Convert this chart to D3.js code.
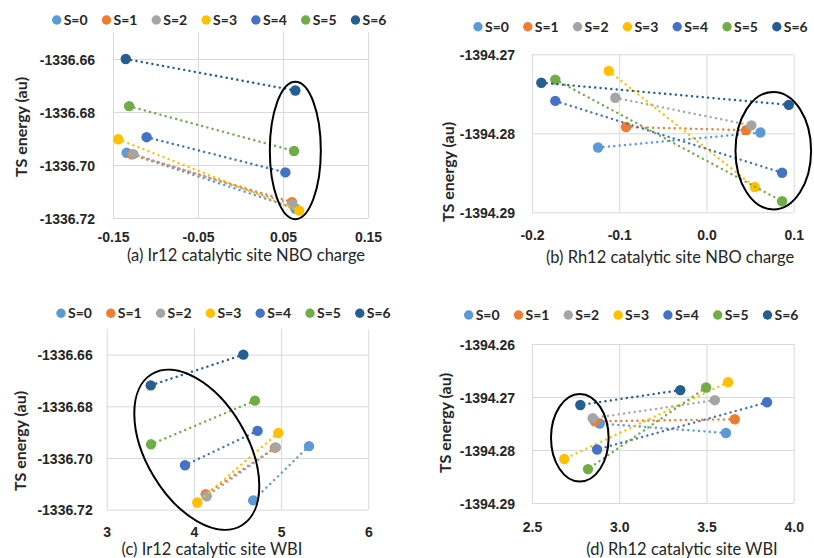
<!DOCTYPE html>
<html lang="en">
<head>
  <meta charset="UTF-8">
  <script src="https://d3js.org/d3.v7.min.js"></script>
  <title>TS energy vs NBO charge / WBI</title>
  <style>
    body { margin: 0; background: #fff; }
    svg { display: block; font-family: Lato, "Open Sans", sans-serif; }
  </style>
</head>
<body>
  <svg width="814" height="558"></svg>
  <script>
    const seriesNames = ["S=0", "S=1", "S=2", "S=3", "S=4", "S=5", "S=6"];
    const seriesColors = ["#5B9BD5", "#ED7D31", "#A5A5A5", "#FFC000", "#4472C4", "#70AD47", "#255E91"];

    // two TS structures per spin state: [first, second]
    const irEnergy = [
      [-1336.6954, -1336.7164],
      [-1336.6960, -1336.7140],
      [-1336.6959, -1336.7148],
      [-1336.6903, -1336.7172],
      [-1336.6895, -1336.7028],
      [-1336.6778, -1336.6947],
      [-1336.6600, -1336.6719]
    ];
    const irNbo = [
      [-0.134, 0.0645],
      [-0.128, 0.0606],
      [-0.126, 0.0610],
      [-0.1438, 0.0692],
      [-0.1105, 0.0528],
      [-0.131, 0.0630],
      [-0.135, 0.0645]
    ];
    const irWbi = [
      [5.32, 4.68],
      [4.93, 4.135],
      [4.94, 4.147],
      [4.968, 4.039],
      [4.73, 3.898],
      [4.70, 3.508],
      [4.567, 3.505]
    ];
    const rhEnergyNbo = [
      [-1394.2818, -1394.2799],
      [-1394.2792, -1394.2796],
      [-1394.2755, -1394.2790],
      [-1394.2721, -1394.2868],
      [-1394.2759, -1394.2850],
      [-1394.2732, -1394.2886],
      [-1394.2736, -1394.2764]
    ];
    const rhNbo = [
      [-0.1243, 0.0618],
      [-0.0922, 0.0454],
      [-0.1045, 0.0515],
      [-0.112, 0.0554],
      [-0.1733, 0.0867],
      [-0.1733, 0.0867],
      [-0.1893, 0.0944]
    ];
    const rhEnergyWbi = [
      [-1394.2768, -1394.2750],
      [-1394.2742, -1394.2746],
      [-1394.2706, -1394.2740],
      [-1394.2672, -1394.2817],
      [-1394.2710, -1394.2799],
      [-1394.2682, -1394.2836],
      [-1394.2687, -1394.2715]
    ];
    const rhWbi = [
      [3.612, 2.888],
      [3.662, 2.860],
      [3.548, 2.848],
      [3.624, 2.685],
      [3.847, 2.873],
      [3.498, 2.821],
      [3.350, 2.777]
    ];

    // tick values and labels
    const irEnergyTicks = [-1336.66, -1336.68, -1336.70, -1336.72];
    const irEnergyLabels = ["-1336.66", "-1336.68", "-1336.70", "-1336.72"];
    const rhEnergyTicksB = [-1394.27, -1394.28, -1394.29];
    const rhEnergyLabelsB = ["-1394.27", "-1394.28", "-1394.29"];
    const rhEnergyTicksD = [-1394.26, -1394.27, -1394.28, -1394.29];
    const rhEnergyLabelsD = ["-1394.26", "-1394.27", "-1394.28", "-1394.29"];
    const irNboTicks = [-0.15, -0.05, 0.05, 0.15];
    const irNboLabels = ["-0.15", "-0.05", "0.05", "0.15"];
    const rhNboTicks = [-0.2, -0.1, 0.0, 0.1];
    const rhNboLabels = ["-0.2", "-0.1", "0.0", "0.1"];
    const irWbiTicks = [3, 4, 5, 6];
    const irWbiLabels = ["3", "4", "5", "6"];
    const rhWbiTicks = [2.5, 3.0, 3.5, 4.0];
    const rhWbiLabels = ["2.5", "3.0", "3.5", "4.0"];

    const panelTitles = [
      "(a) Ir12 catalytic site NBO charge",
      "(b) Rh12 catalytic site NBO charge",
      "(c) Ir12 catalytic site WBI",
      "(d) Rh12 catalytic site WBI"
    ];

    const svg = d3.select("svg");

    const panels = [
      {
        x: irNbo, y: irEnergy, title: panelTitles[0],
        xDomain: [-0.15, 0.15], yDomain: [-1336.72, -1336.65],
        xRange: [113, 368], yRange: [218, 32.5],
        xTicks: irNboTicks, xLabels: irNboLabels, yTicks: irEnergyTicks, yLabels: irEnergyLabels,
        yGap: 18, xLabelY: 242, legendX: 56.7, legendY: 20,
        titleX: 246, titleY: 261, yTitleX: 21, yTitleY: 127,
        ring: { cx: 0.0645, cy: -1336.6945, rx: 25.5, ry: 68.7, rot: 0 }
      },
      {
        x: rhNbo, y: rhEnergyNbo, title: panelTitles[1],
        xDomain: [-0.2, 0.1], yDomain: [-1394.29, -1394.27],
        xRange: [532, 793.7], yRange: [212.3, 54.3],
        xTicks: rhNboTicks, xLabels: rhNboLabels, yTicks: rhEnergyTicksB, yLabels: rhEnergyLabelsB,
        yGap: 17, xLabelY: 240, legendX: 478, legendY: 26.7,
        titleX: 670, titleY: 263, yTitleX: 448.7, yTitleY: 172,
        ring: { cx: 0.0766, cy: -1394.2822, rx: 37.8, ry: 58.8, rot: 0 }
      },
      {
        x: irWbi, y: irEnergy, title: panelTitles[2],
        xDomain: [3, 6], yDomain: [-1336.72, -1336.65],
        xRange: [106.7, 368.3], yRange: [509.7, 328.8],
        xTicks: irWbiTicks, xLabels: irWbiLabels, yTicks: irEnergyTicks, yLabels: irEnergyLabels,
        yGap: 14, xLabelY: 537, legendX: 61, legendY: 313.3,
        titleX: 212, titleY: 554.5, yTitleX: 20, yTitleY: 441,
        ring: { cx: 4.033, cy: -1336.6968, rx: 88, ry: 50.6, rot: 59.4 }
      },
      {
        x: rhWbi, y: rhEnergyWbi, title: panelTitles[3],
        xDomain: [2.5, 4.0], yDomain: [-1394.29, -1394.26],
        xRange: [532, 793.7], yRange: [503, 344],
        xTicks: rhWbiTicks, xLabels: rhWbiLabels, yTicks: rhEnergyTicksD, yLabels: rhEnergyLabelsD,
        yGap: 17, xLabelY: 532, legendX: 468.7, legendY: 315,
        titleX: 682, titleY: 554.5, yTitleX: 445, yTitleY: 423,
        ring: { cx: 2.774, cy: -1394.2777, rx: 28.8, ry: 43.8, rot: 0 }
      }
    ];

    const drawPanel = (p) => {
      const xScale = d3.scaleLinear().domain(p.xDomain).range(p.xRange);
      const yScale = d3.scaleLinear().domain(p.yDomain).range(p.yRange);
      const g = svg.append("g");
      const left = p.xRange[0], right = p.xRange[1];
      const bottom = p.yRange[0], top = p.yRange[1];

      // gridlines (the axis tick lines stretched across the plot)
      const yAxis = d3.axisLeft(yScale)
        .tickValues(p.yTicks)
        .tickSize(-(right - left))
        .tickPadding(p.yGap)
        .tickFormat((d, i) => p.yLabels[i]);
      const yG = g.append("g")
        .attr("transform", `translate(${left},0)`)
        .call(yAxis);

      const xAxis = d3.axisBottom(xScale)
        .tickValues(p.xTicks)
        .tickSize(-(bottom - top))
        .tickFormat((d, i) => p.xLabels[i]);
      const xG = g.append("g")
        .attr("transform", `translate(0,${bottom})`)
        .call(xAxis);

      [xG, yG].forEach(a => {
        a.select("path.domain").remove();
        a.selectAll(".tick line").attr("stroke", "#D9D9D9").attr("stroke-width", 1);
        a.selectAll(".tick text")
          .attr("fill", "#262626")
          .style("font-size", "14px")
          .style("font-weight", "bold");
      });
      // put x labels at a fixed baseline below the axis
      xG.selectAll(".tick text").attr("y", p.xLabelY - bottom).attr("dy", 0);
      yG.selectAll(".tick text").attr("dy", "0.36em");

      // series: dotted line between the two structures, then the markers
      seriesNames.forEach((name, i) => {
        const pts = [0, 1].map(k => [p.x[i][k], p.y[i][k]]);
        g.append("path")
          .attr("d", d3.line().x(d => xScale(d[0])).y(d => yScale(d[1]))(pts))
          .attr("fill", "none")
          .attr("stroke", seriesColors[i])
          .attr("stroke-width", 2.4)
          .attr("stroke-linecap", "round")
          .attr("stroke-dasharray", "0.1,5.3");
        g.selectAll(null)
          .data(pts)
          .enter()
          .append("circle")
          .attr("cx", d => xScale(d[0]))
          .attr("cy", d => yScale(d[1]))
          .attr("r", 5.2)
          .attr("fill", seriesColors[i]);
      });

      // hand-drawn ellipse annotation
      const r = p.ring;
      g.append("ellipse")
        .attr("transform", `translate(${xScale(r.cx)},${yScale(r.cy)}) rotate(${r.rot})`)
        .attr("rx", r.rx)
        .attr("ry", r.ry)
        .attr("fill", "none")
        .attr("stroke", "#000")
        .attr("stroke-width", 2);

      // legend
      const legend = g.append("g");
      seriesNames.forEach((name, i) => {
        const lx = p.legendX + i * 49.8;
        legend.append("circle")
          .attr("cx", lx).attr("cy", p.legendY)
          .attr("r", 4.7)
          .attr("fill", seriesColors[i]);
        legend.append("text")
          .attr("x", lx + 7).attr("y", p.legendY)
          .attr("dy", "0.36em")
          .attr("fill", "#262626")
          .style("font-size", "14px")
          .style("font-weight", "bold")
          .text(name);
      });

      // axis titles
      g.append("text")
        .attr("x", p.titleX).attr("y", p.titleY)
        .attr("text-anchor", "middle")
        .attr("fill", "#262626")
        .style("font-size", "16.5px")
        .text(p.title);
      g.append("text")
        .attr("transform", `translate(${p.yTitleX},${p.yTitleY}) rotate(-90)`)
        .attr("text-anchor", "middle")
        .attr("dy", "0.36em")
        .attr("fill", "#262626")
        .style("font-size", "16px")
        .style("font-weight", "bold")
        .text("TS energy (au)");
    };

    panels.forEach(drawPanel);
  </script>
</body>
</html>
